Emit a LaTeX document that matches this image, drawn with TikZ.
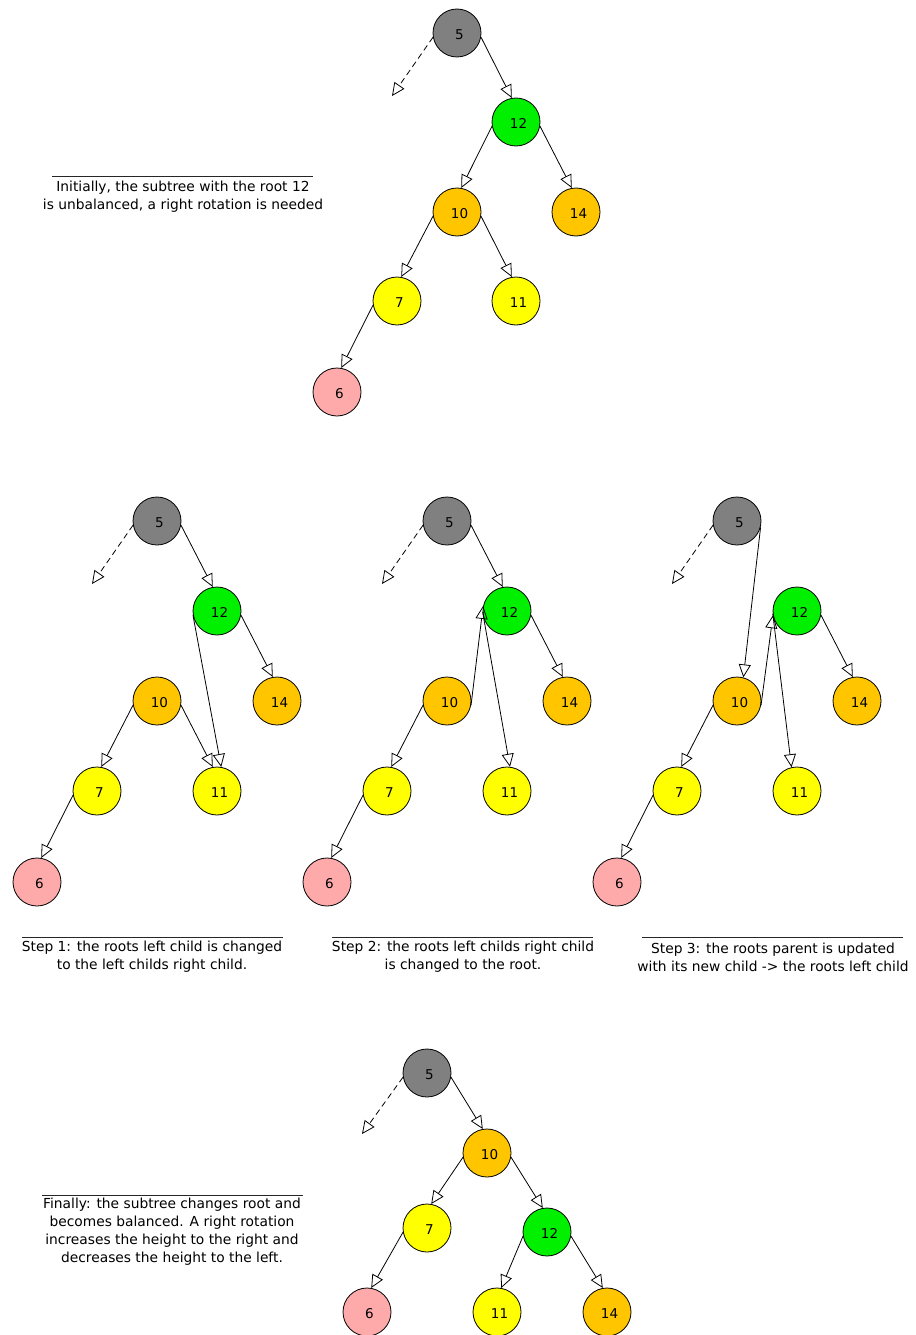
\documentclass[tikz,border=0pt]{standalone}
\usepackage{fontspec}
\setmainfont{DejaVu Sans}
\usetikzlibrary{arrows.meta}
\definecolor{cgray}{RGB}{128,128,128}
\definecolor{cgreen}{RGB}{0,240,0}
\definecolor{corange}{RGB}{255,198,0}
\definecolor{cyellow}{RGB}{255,255,0}
\definecolor{cpink}{RGB}{255,170,170}
\tikzset{
  treenode/.style={circle, draw, line width=0.8pt, minimum size=48pt, inner sep=0pt},
  numlbl/.style={font=\fontsize{13.5}{15}\selectfont, xshift=2.5pt, yshift=-1.5pt},
  edgearr/.style={-{Triangle[open,length=13pt,width=12pt,line width=0.8pt]}, line width=0.8pt},
  dasharr/.style={edgearr, dash pattern=on 6pt off 4pt},
  captxt/.style={align=center, font=\fontsize{13.8}{18}\selectfont},
  sepline/.style={line width=0.6pt, draw=black!85},
}
\newcommand{\tnode}[5]{\node[treenode, fill=#4] (#1) at (#2,#3) {}; \node[numlbl] at (#1) {#5};}
\newcommand{\ledge}[2]{\draw[edgearr] (#1.190) -- (#2.80);}
\newcommand{\redge}[2]{\draw[edgearr] (#1.-10) -- (#2.100);}
\begin{document}
\begin{tikzpicture}[x=1pt,y=-1pt]
\useasboundingbox (0,0) rectangle (915,1335);
% ---- Top tree
\tnode{a5}{457}{33}{cgray}{5}
\tnode{a12}{516}{122}{cgreen}{12}
\tnode{a10}{457}{212}{corange}{10}
\tnode{a14}{576}{212}{corange}{14}
\tnode{a7}{397}{301}{cyellow}{7}
\tnode{a11}{516}{301}{cyellow}{11}
\tnode{a6}{337}{392}{cpink}{6}
\coordinate (ad) at (392,96);
\draw[dasharr] (a5.190) -- (ad);
\redge{a5}{a12}
\ledge{a12}{a10}
\redge{a12}{a14}
\ledge{a10}{a7}
\redge{a10}{a11}
\ledge{a7}{a6}
\coordinate (asl) at (52,176); \coordinate (asr) at (313,176);
\draw[sepline] (asl) -- (asr);
\node[captxt] (acap) at (183,197) {Initially, the subtree with the root 12\\is unbalanced, a right rotation is needed};
% ---- Step 1
\tnode{b5}{157}{521}{cgray}{5}
\tnode{b12}{217}{611}{cgreen}{12}
\tnode{b10}{157}{701}{corange}{10}
\tnode{b14}{277}{701}{corange}{14}
\tnode{b7}{97}{791}{cyellow}{7}
\tnode{b11}{217}{791}{cyellow}{11}
\tnode{b6}{37}{882}{cpink}{6}
\coordinate (bd) at (92,584);
\draw[dasharr] (b5.190) -- (bd);
\redge{b5}{b12}
\redge{b12}{b14}
\ledge{b10}{b7}
\redge{b10}{b11}
\ledge{b7}{b6}
\draw[edgearr] (b12.190) -- (b11.80);
\coordinate (bsl) at (22,937); \coordinate (bsr) at (283,937);
\draw[sepline] (bsl) -- (bsr);
\node[captxt] (bcap) at (152,957) {Step 1: the roots left child is changed\\to the left childs right child.};
% ---- Step 2
\tnode{c5}{447}{521}{cgray}{5}
\tnode{c12}{507}{611}{cgreen}{12}
\tnode{c10}{447}{701}{corange}{10}
\tnode{c14}{567}{701}{corange}{14}
\tnode{c7}{387}{791}{cyellow}{7}
\tnode{c11}{507}{791}{cyellow}{11}
\tnode{c6}{327}{882}{cpink}{6}
\coordinate (cd) at (382,584);
\draw[dasharr] (c5.190) -- (cd);
\redge{c5}{c12}
\redge{c12}{c14}
\ledge{c10}{c7}
\ledge{c7}{c6}
\draw[edgearr] (c10.-10) -- (c12.168);
\draw[edgearr] (c12.182) -- (c11.83);
\coordinate (csl) at (332,937); \coordinate (csr) at (593,937);
\draw[sepline] (csl) -- (csr);
\node[captxt] (ccap) at (463,957) {Step 2: the roots left childs right child\\is changed to the root.};
% ---- Step 3
\tnode{d5}{737}{521}{cgray}{5}
\tnode{d12}{797}{611}{cgreen}{12}
\tnode{d10}{737}{701}{corange}{10}
\tnode{d14}{857}{701}{corange}{14}
\tnode{d7}{677}{791}{cyellow}{7}
\tnode{d11}{797}{791}{cyellow}{11}
\tnode{d6}{617}{882}{cpink}{6}
\coordinate (ddash) at (672,584);
\draw[dasharr] (d5.190) -- (ddash);
\draw[edgearr] (d5.-15) -- (d10.75);
\redge{d12}{d14}
\ledge{d10}{d7}
\ledge{d7}{d6}
\draw[edgearr] (d10.-10) -- (d12.190);
\draw[edgearr] (d12.186) -- (d11.103);
\coordinate (dsl) at (642,937); \coordinate (dsr) at (903,937);
\draw[sepline] (dsl) -- (dsr);
\node[captxt] (dcap) at (773,957) {Step 3: the roots parent is updated\\with its new child -> the roots left child};
% ---- Final
\tnode{e5}{427}{1073}{cgray}{5}
\tnode{e10}{487}{1153}{corange}{10}
\tnode{e7}{427}{1228}{cyellow}{7}
\tnode{e12}{547}{1232}{cgreen}{12}
\tnode{e6}{367}{1312}{cpink}{6}
\tnode{e11}{497}{1312}{cyellow}{11}
\tnode{e14}{607}{1312}{corange}{14}
\coordinate (edash) at (362,1134);
\draw[dasharr] (e5.190) -- (edash);
\redge{e5}{e10}
\ledge{e10}{e7}
\redge{e10}{e12}
\ledge{e7}{e6}
\ledge{e12}{e11}
\redge{e12}{e14}
\coordinate (esl) at (42,1195); \coordinate (esr) at (303,1195);
\draw[sepline] (esl) -- (esr);
\node[captxt] (ecap) at (172,1232) {Finally: the subtree changes root and\\becomes balanced. A right rotation\\increases the height to the right and\\decreases the height to the left.};
\end{tikzpicture}
\end{document}
